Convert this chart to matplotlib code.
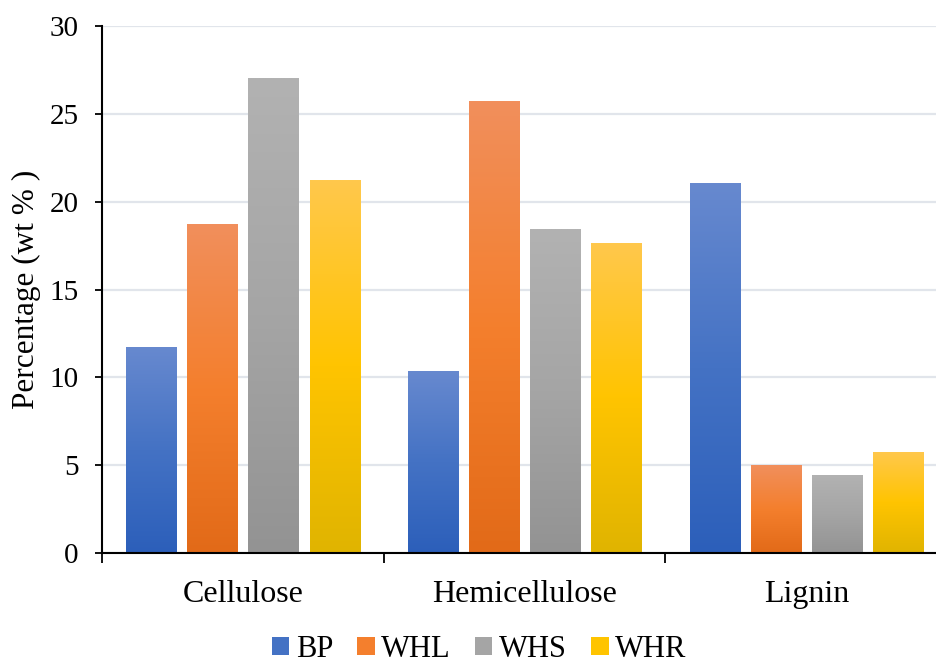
import matplotlib
matplotlib.use("Agg")
import matplotlib.pyplot as plt
import numpy as np
from matplotlib.colors import LinearSegmentedColormap
from matplotlib.patches import Patch

plt.rcParams['font.family'] = ['Liberation Serif', 'DejaVu Serif']

categories = ['Cellulose', 'Hemicellulose', 'Lignin']
series = ['BP', 'WHL', 'WHS', 'WHR']
bp = [11.7, 10.3, 21.0]
whl = [18.7, 25.7, 5.0]
whs = [27.0, 18.4, 4.4]
whr = [21.2, 17.6, 5.7]
values = [bp, whl, whs, whr]

# (top, middle, bottom) gradient stops, excel-style
grad_colors = [
    ('#6789cf', '#4472c4', '#2c5fba'),
    ('#f18f5c', '#f47f2d', '#e26a18'),
    ('#b2b2b2', '#a5a5a5', '#939393'),
    ('#ffc84c', '#ffc400', '#e0b400'),
]

fig = plt.figure(figsize=(9.36, 6.64), dpi=100)
ax = fig.add_axes([0.109, 0.167, 1.012 - 0.109, 0.961 - 0.167])

x = np.arange(len(categories))
width = 0.178
pitch = 0.217
grad = np.linspace(1, 0, 256).reshape(-1, 1)

for i, (name, vals) in enumerate(zip(series, values)):
    offs = x + (i - 1.5) * pitch
    bars = ax.bar(offs, vals, width, color='none', edgecolor='none', zorder=3)
    cmap = LinearSegmentedColormap.from_list(name, list(reversed(grad_colors[i])))
    for b in bars:
        x0 = b.get_x()
        x1 = x0 + b.get_width()
        h = b.get_height()
        ax.imshow(grad, extent=[x0, x1, 0, h], aspect='auto', cmap=cmap,
                  vmin=0, vmax=1, interpolation='bilinear', zorder=3)

ax.set_xlim(-0.5, len(categories) - 0.5)
ax.set_ylim(0, 30)
ax.set_yticks(np.arange(0, 31, 5))
ax.set_xticks(x)
ax.set_xticklabels(categories)
ax.set_xticks(np.arange(-0.5, len(categories), 1), minor=True)
ax.tick_params(axis='x', which='major', length=0, pad=19, labelsize=23)
ax.tick_params(axis='x', which='minor', length=7, width=1.3, direction='out')
ax.tick_params(axis='y', length=5, width=1.3, direction='out', labelsize=21, pad=12)

ax.grid(axis='y', color='#e1e5eb', linewidth=1.6, zorder=0)
ax.set_axisbelow(True)
for s in ['top', 'right']:
    ax.spines[s].set_visible(False)
for s in ['left', 'bottom']:
    ax.spines[s].set_linewidth(1.5)
    ax.spines[s].set_color('black')
    ax.spines[s].set_zorder(5)

ax.set_ylabel('Percentage (wt % )', fontsize=22.5, labelpad=6)

handles = [Patch(facecolor=c[1], edgecolor='none') for c in grad_colors]
fig.legend(handles, series, loc='lower center', bbox_to_anchor=(0.512, -0.041),
           ncol=4, frameon=False, fontsize=22, handlelength=0.56, handleheight=0.56,
           handletextpad=0.22, columnspacing=0.8)

fig.savefig('out.png', dpi=100)
